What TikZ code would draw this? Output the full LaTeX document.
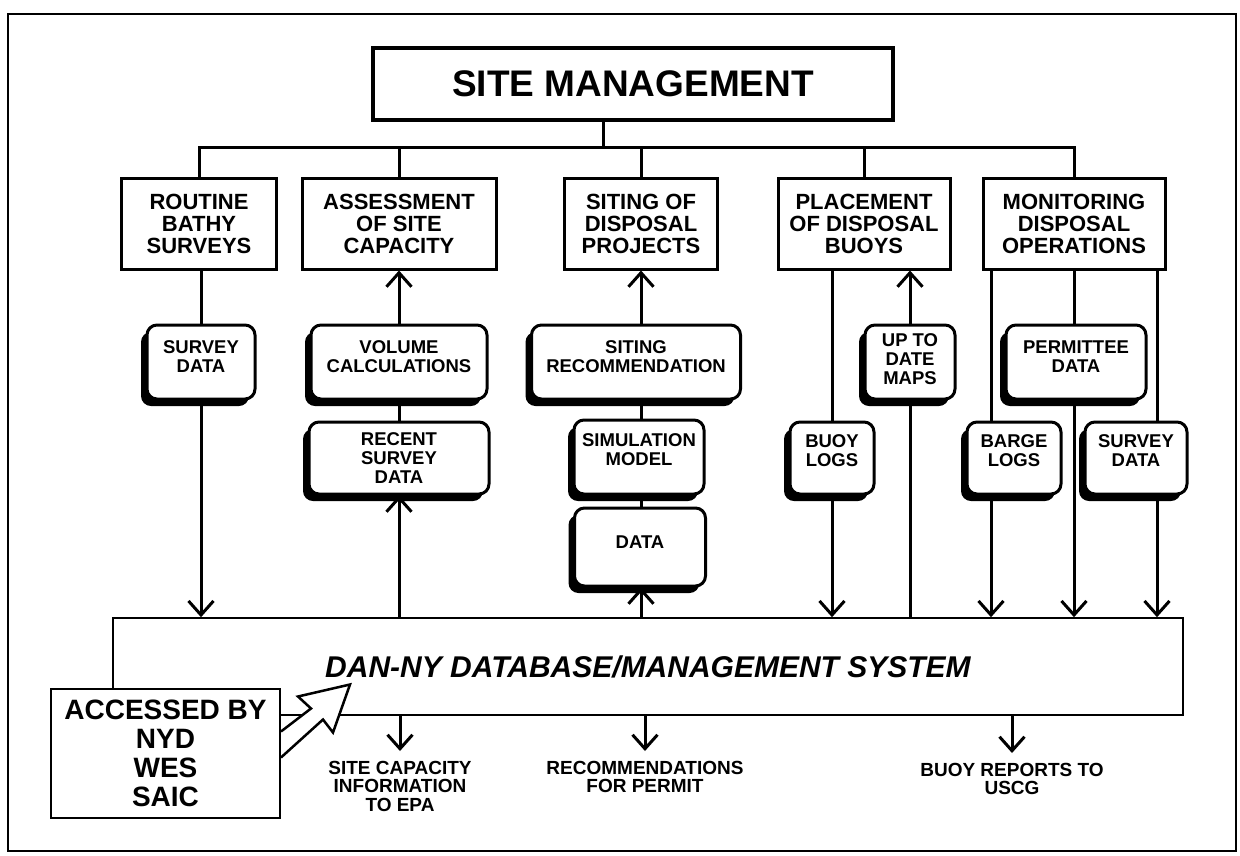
\documentclass[tikz,border=0pt]{standalone}
\usepackage{fontspec}
\setmainfont{Liberation Sans}
\usepackage{tikz}
\usetikzlibrary{arrows.meta,shadows}
\tikzset{
	topbox/.style={draw, line width=3pt, inner sep=0pt, minimum height=91pt, align=center, font=\fontsize{22}{22}\selectfont\bfseries},
	roundbox/.style={draw, fill=white, line width=3pt, rounded corners=10pt, inner sep=0pt, minimum height=74pt, align=center, font=\fontsize{18.5}{19}\selectfont\bfseries, drop shadow={shadow xshift=-6pt, shadow yshift=-7pt, fill=black, opacity=1}},
	lift/.style={text depth=#1},
	link/.style={line width=3pt},
	arr/.style={line width=3pt, -{Straight Barb[length=14pt, width=25pt]}},
	outlab/.style={inner xsep=0pt, inner ysep=10pt, align=center, font=\fontsize{19}{18.5}\selectfont\bfseries},
}

\begin{document}
\begin{tikzpicture}[x=1pt, y=-1pt]
		%%%%% START %%%%%
		\useasboundingbox (0,0) rectangle (1240,855);
		\draw[line width=2.5pt] (8,14) rectangle (1236,851);
		
		\node[draw, line width=4.5pt, minimum width=520pt, minimum height=72pt, font=\fontsize{37}{40}\selectfont\bfseries] (title) at (633,84) {SITE MANAGEMENT};
		
		\node[topbox, minimum width=155pt] (routine) at (199,223.5) {ROUTINE\\BATHY\\SURVEYS};
		\node[topbox, minimum width=194pt] (assess) at (399,223.5) {ASSESSMENT\\OF SITE\\CAPACITY};
		\node[topbox, minimum width=153pt] (siting) at (641,223.5) {SITING OF\\DISPOSAL\\PROJECTS};
		\node[topbox, minimum width=172pt] (place) at (864,223.5) {PLACEMENT\\OF DISPOSAL\\BUOYS};
		\node[topbox, minimum width=182pt] (monitor) at (1074,223.5) {MONITORING\\DISPOSAL\\OPERATIONS};
		
		\coordinate (bus) at (603,147);
		\draw[link] (title.south -| bus) -- (bus);
		\draw[link] (routine.north) |- (bus) -| (monitor.north);
		\foreach \n in {assess,siting,place}
			\draw[link] (\n.north) -- (\n.north |- bus);
		
		\node[roundbox, minimum width=108pt, lift=11pt] (sdata1) at (201,362) {SURVEY\\DATA};
		\node[roundbox, minimum width=176pt, lift=11pt] (volume) at (399,362) {VOLUME\\CALCULATIONS};
		\node[roundbox, minimum width=209pt, lift=11pt] (sitrec) at (636,362) {SITING\\RECOMMENDATION};
		\node[roundbox, minimum width=90pt, lift=6pt] (maps) at (910,362) {UP TO\\DATE\\MAPS};
		\node[roundbox, minimum width=140pt, lift=11pt] (permit) at (1076,362) {PERMITTEE\\DATA};
		
		\node[roundbox, minimum width=180pt, minimum height=72pt] (recent) at (399,458) {RECENT\\SURVEY\\DATA};
		\node[roundbox, minimum width=130pt, lift=14pt] (simmod) at (639,457) {SIMULATION\\MODEL};
		\node[roundbox, minimum width=131pt, minimum height=78pt, lift=10pt] (data) at (640,547) {DATA};
		\node[roundbox, minimum width=84pt, minimum height=72pt, lift=14pt] (buoylog) at (832,458) {BUOY\\LOGS};
		\node[roundbox, minimum width=94pt, minimum height=72pt, lift=14pt] (barge) at (1014,458) {BARGE\\LOGS};
		\node[roundbox, minimum width=102pt, minimum height=72pt, lift=14pt] (sdata2) at (1136,458) {SURVEY\\DATA};
		
		\node[draw, line width=1.6pt, minimum width=1070pt, minimum height=97pt, font=\fontsize{30}{32}\selectfont\bfseries\itshape] (db) at (648,666.5) {DAN-NY DATABASE/MANAGEMENT SYSTEM};
		
		% survey and assessment
		\draw[link] (routine.south -| sdata1) -- (sdata1.north);
		\draw[arr] (sdata1.south) -- (sdata1 |- db.north);
		\draw[arr] (volume.north) -- (assess.south);
		\draw[link] (volume.south) -- (recent.north);
		\draw[arr] (db.north -| recent) -- (recent.south);
		
		% siting
		\draw[arr] (sitrec.north -| siting) -- (siting.south);
		\draw[link] (sitrec.south -| siting) -- (simmod.north -| siting);
		\draw[link] (simmod.south -| siting) -- (data.north -| siting);
		\draw[arr] (db.north -| siting) -- (data.south -| siting);
		
		% placement
		\draw[link] (place.south -| buoylog) -- (buoylog.north);
		\draw[arr] (buoylog.south) -- (buoylog |- db.north);
		\draw[link] (db.north -| maps) -- (maps.south);
		\draw[arr] (maps.north) -- (maps |- place.south);
		
		% monitoring
		\coordinate (m1) at ([xshift=-83pt]monitor.south);
		\coordinate (m3) at ([xshift=83pt]monitor.south);
		\draw[link] (m1) -- (m1 |- barge.north);
		\draw[arr] (m1 |- barge.south) -- (m1 |- db.north);
		\draw[link] (monitor.south) -- (monitor.south |- permit.north);
		\draw[arr] (monitor.south |- permit.south) -- (monitor.south |- db.north);
		\draw[link] (m3) -- (m3 |- sdata2.north);
		\draw[arr] (m3 |- sdata2.south) -- (m3 |- db.north);
		
		% outputs
		\node[outlab, anchor=north] (epa) at (400,751) {SITE CAPACITY\\INFORMATION\\TO EPA};
		\node[outlab, anchor=north] (permrec) at (645,751) {RECOMMENDATIONS\\FOR PERMIT};
		\node[outlab, anchor=north] (uscg) at (1012,753) {BUOY REPORTS TO\\USCG};
		\foreach \n in {epa,permrec,uscg}
			\draw[arr] (db.south -| \n) -- (\n.north);
		
		\node[draw, fill=white, line width=2pt, minimum width=229pt, minimum height=129pt, inner sep=0pt, align=center, font=\fontsize{28}{29}\selectfont\bfseries] (acc) at (165.5,753.5) {ACCESSED BY\\NYD\\WES\\SAIC};
		\draw[line width=2.5pt, fill=white] ([yshift=22pt]acc.east) -- ++(30,-23) -- ++(-13,-12) -- ++(52,-12) -- ++(-17,48) -- ++(-10,-13) -- ++(-42,38);
		
		%%%%% END %%%%%
	\end{tikzpicture}
\end{document}
